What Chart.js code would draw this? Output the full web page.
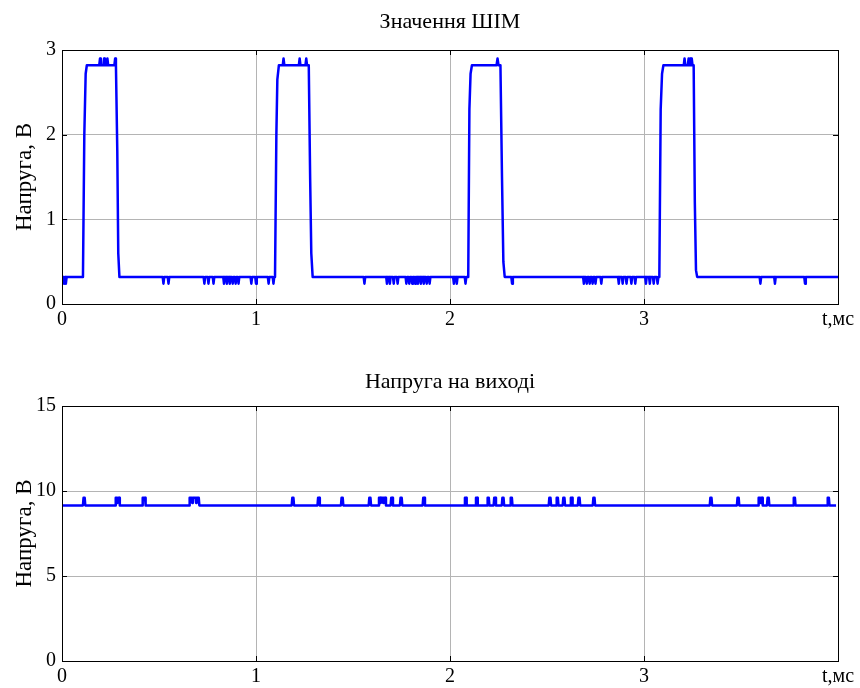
<!DOCTYPE html>
<html>
<head>
<meta charset="utf-8">
<script src="https://cdn.jsdelivr.net/npm/chart.js@4"></script>
<style>
  body { margin: 0; background: #fff; }
  canvas { position: absolute; left: 0; }
</style>
</head>
<body>
<canvas id="pwm" width="860" height="344" style="top:0"></canvas>
<canvas id="out" width="860" height="344" style="top:344px"></canvas>
<script>
// time, ms / voltage, V
const pwmPoints = [
  [0,0.32],[0.004,0.24],[0.008,0.32],[0.012,0.24],[0.016,0.32],[0.02,0.24],[0.024,0.32],
  [0.108,0.32],[0.115,2.0],[0.122,2.72],[0.128,2.82],
  [0.192,2.82],[0.196,2.9],[0.2,2.82],[0.213,2.82],[0.217,2.9],[0.221,2.82],[0.23,2.82],[0.234,2.9],[0.238,2.82],[0.27,2.82],[0.274,2.9],[0.278,2.82],
  [0.285,1.8],[0.29,0.6],[0.296,0.32],
  [0.519,0.32],[0.523,0.24],[0.527,0.32],[0.545,0.32],[0.549,0.24],[0.553,0.32],
  [0.73,0.32],[0.734,0.24],[0.738,0.32],[0.751,0.32],[0.755,0.24],[0.759,0.32],[0.777,0.32],[0.781,0.24],[0.785,0.32],
  [0.831,0.32],[0.835,0.24],[0.839,0.32],[0.846,0.32],[0.85,0.24],[0.854,0.32],[0.861,0.32],[0.865,0.24],[0.869,0.32],
  [0.876,0.32],[0.88,0.24],[0.884,0.32],[0.891,0.32],[0.895,0.24],[0.899,0.32],[0.906,0.32],[0.91,0.24],[0.914,0.32],
  [0.972,0.32],[0.976,0.24],[0.98,0.32],[0.996,0.32],[1.0,0.24],[1.004,0.32],[1.061,0.32],[1.065,0.24],[1.069,0.32],[1.086,0.32],[1.09,0.24],[1.094,0.32],
  [1.098,0.32],[1.105,2.0],[1.11,2.65],[1.118,2.82],[1.138,2.82],[1.142,2.9],[1.146,2.82],[1.221,2.82],[1.225,2.9],[1.229,2.82],
  [1.255,2.82],[1.259,2.9],[1.263,2.82],[1.272,2.82],[1.279,1.5],[1.285,0.6],[1.292,0.32],
  [1.555,0.32],[1.559,0.24],[1.563,0.32],
  [1.671,0.32],[1.675,0.24],[1.679,0.32],[1.686,0.32],[1.69,0.24],[1.694,0.32],[1.706,0.32],[1.71,0.24],[1.714,0.32],[1.726,0.32],[1.73,0.24],[1.734,0.32],
  [1.771,0.32],[1.775,0.24],[1.779,0.32],[1.786,0.32],[1.79,0.24],[1.794,0.32],[1.801,0.32],[1.805,0.24],[1.809,0.32],
  [1.816,0.32],[1.82,0.24],[1.824,0.32],[1.831,0.32],[1.835,0.24],[1.839,0.32],[1.846,0.32],[1.85,0.24],[1.854,0.32],
  [1.861,0.32],[1.865,0.24],[1.869,0.32],[1.876,0.32],[1.88,0.24],[1.884,0.32],[1.891,0.32],[1.895,0.24],[1.899,0.32],
  [2.016,0.32],[2.02,0.24],[2.024,0.32],[2.031,0.32],[2.035,0.24],[2.039,0.32],[2.076,0.32],[2.08,0.24],[2.084,0.32],
  [2.094,0.32],[2.1,2.3],[2.106,2.72],[2.113,2.82],[2.24,2.82],[2.245,2.9],[2.25,2.82],[2.26,2.82],[2.268,1.5],[2.275,0.5],[2.282,0.32],
  [2.316,0.32],[2.32,0.24],[2.324,0.32],
  [2.686,0.32],[2.69,0.24],[2.694,0.32],[2.701,0.32],[2.705,0.24],[2.709,0.32],[2.716,0.32],[2.72,0.24],[2.724,0.32],
  [2.731,0.32],[2.735,0.24],[2.739,0.32],[2.746,0.32],[2.75,0.24],[2.754,0.32],[2.776,0.32],[2.78,0.24],[2.784,0.32],
  [2.866,0.32],[2.87,0.24],[2.874,0.32],[2.886,0.32],[2.89,0.24],[2.894,0.32],[2.906,0.32],[2.91,0.24],[2.914,0.32],
  [2.931,0.32],[2.935,0.24],[2.939,0.32],[2.951,0.32],[2.955,0.24],[2.959,0.32],
  [3.006,0.32],[3.01,0.24],[3.014,0.32],[3.026,0.32],[3.03,0.24],[3.034,0.32],[3.046,0.32],[3.05,0.24],[3.054,0.32],[3.066,0.32],[3.07,0.24],[3.074,0.32],
  [3.079,0.32],[3.086,2.3],[3.093,2.72],[3.1,2.82],[3.205,2.82],[3.209,2.9],[3.213,2.82],[3.226,2.82],[3.23,2.9],[3.234,2.82],
  [3.238,2.9],[3.242,2.82],[3.246,2.9],[3.25,2.82],[3.256,2.82],[3.262,1.2],[3.268,0.4],[3.274,0.32],
  [3.596,0.32],[3.6,0.24],[3.604,0.32],[3.671,0.32],[3.675,0.24],[3.679,0.32],[3.826,0.32],[3.83,0.24],[3.834,0.32],
  [4.0,0.32]
]

const outPoints = [
  [0,9.15],
  [0.108,9.15],[0.111,9.6],[0.117,9.6],[0.12,9.15],
  [0.274,9.15],[0.277,9.6],[0.283,9.6],[0.286,9.3],[0.289,9.6],[0.295,9.6],[0.298,9.15],
  [0.413,9.15],[0.416,9.6],[0.428,9.6],[0.431,9.15],
  [0.655,9.15],[0.658,9.6],[0.668,9.6],[0.671,9.3],[0.674,9.6],[0.688,9.6],[0.691,9.3],[0.694,9.6],[0.705,9.6],[0.708,9.15],
  [1.184,9.15],[1.187,9.6],[1.193,9.6],[1.196,9.15],
  [1.317,9.15],[1.32,9.6],[1.326,9.6],[1.329,9.15],
  [1.438,9.15],[1.441,9.6],[1.447,9.6],[1.45,9.15],
  [1.581,9.15],[1.584,9.6],[1.59,9.6],[1.593,9.15],
  [1.631,9.15],[1.634,9.6],[1.64,9.6],[1.643,9.3],[1.646,9.6],[1.652,9.6],[1.655,9.3],[1.658,9.6],[1.667,9.6],[1.67,9.15],
  [1.694,9.15],[1.697,9.6],[1.703,9.6],[1.706,9.15],
  [1.742,9.15],[1.745,9.6],[1.751,9.6],[1.754,9.15],
  [1.859,9.15],[1.862,9.6],[1.868,9.6],[1.871,9.15],
  [2.074,9.15],[2.077,9.6],[2.083,9.6],[2.086,9.15],
  [2.131,9.15],[2.134,9.6],[2.14,9.6],[2.143,9.15],
  [2.191,9.15],[2.194,9.6],[2.2,9.6],[2.203,9.15],
  [2.225,9.15],[2.228,9.6],[2.234,9.6],[2.237,9.15],
  [2.267,9.15],[2.27,9.6],[2.276,9.6],[2.279,9.15],
  [2.31,9.15],[2.313,9.6],[2.319,9.6],[2.322,9.15],
  [2.509,9.15],[2.512,9.6],[2.518,9.6],[2.521,9.15],
  [2.547,9.15],[2.55,9.6],[2.556,9.6],[2.559,9.15],
  [2.581,9.15],[2.584,9.6],[2.59,9.6],[2.593,9.15],
  [2.62,9.15],[2.623,9.6],[2.629,9.6],[2.632,9.15],
  [2.659,9.15],[2.662,9.6],[2.668,9.6],[2.671,9.15],
  [2.736,9.15],[2.739,9.6],[2.745,9.6],[2.748,9.15],
  [3.339,9.15],[3.342,9.6],[3.348,9.6],[3.351,9.15],
  [3.479,9.15],[3.482,9.6],[3.488,9.6],[3.491,9.15],
  [3.588,9.15],[3.591,9.6],[3.597,9.6],[3.6,9.3],[3.603,9.6],[3.609,9.6],[3.612,9.15],
  [3.634,9.15],[3.637,9.6],[3.643,9.6],[3.646,9.15],
  [3.769,9.15],[3.772,9.6],[3.778,9.6],[3.781,9.15],
  [3.944,9.15],[3.947,9.6],[3.953,9.6],[3.956,9.15],
  [3.99,9.15]
]

const xTicks = ['0', '1', '2', '3', 't,мс']
const pwmYTicks = [0, 1, 2, 3]
const outYTicks = [0, 5, 10, 15]
const titles = ['Значення ШІМ', 'Напруга на виході']
const yTitle = 'Напруга, В'

const FONT = '"Liberation Serif", "Times New Roman", serif'

// box round the plot, inward tick marks, centred title
function framePlugin(title, titleY, yStep) {
  return {
    id: 'frame',
    afterDraw(chart) {
      const { ctx, chartArea: a, scales } = chart
      ctx.save()
      ctx.strokeStyle = '#000'
      ctx.lineWidth = 1
      ctx.strokeRect(Math.round(a.left) + 0.5, Math.round(a.top) + 0.5, Math.round(a.right - a.left), Math.round(a.bottom - a.top))
      ctx.beginPath()
      for (let v = 0; v <= 4; v++) {
        const x = Math.round(scales.x.getPixelForValue(v)) + 0.5
        ctx.moveTo(x, a.top); ctx.lineTo(x, a.top + 5)
        ctx.moveTo(x, a.bottom); ctx.lineTo(x, a.bottom - 5)
      }
      for (let v = scales.y.min; v <= scales.y.max; v += yStep) {
        const y = Math.round(scales.y.getPixelForValue(v)) + 0.5
        ctx.moveTo(a.left, y); ctx.lineTo(a.left + 5, y)
        ctx.moveTo(a.right, y); ctx.lineTo(a.right - 5, y)
      }
      ctx.stroke()
      ctx.fillStyle = '#000'
      ctx.font = '22px ' + FONT
      ctx.textAlign = 'center'
      ctx.textBaseline = 'middle'
      ctx.fillText(title, (a.left + a.right) / 2, titleY)
      ctx.restore()
    }
  }
}

function makeChart(id, points, yMax, yStep, title, titleY, padTop, xHeight) {
  return new Chart(document.getElementById(id), {
    type: 'line',
    data: {
      datasets: [{
        data: points.map(p => ({ x: p[0], y: p[1] })),
        borderColor: '#0000ff',
        borderWidth: 2.5,
        borderJoinStyle: 'round',
        pointRadius: 0,
        tension: 0,
        fill: false
      }]
    },
    options: {
      responsive: false,
      animation: false,
      layout: { padding: { top: padTop, right: 22, left: 0, bottom: 0 } },
      plugins: { legend: { display: false }, tooltip: { enabled: false } },
      scales: {
        x: {
          type: 'linear', min: 0, max: 4,
          ticks: {
            stepSize: 1, autoSkip: false, maxRotation: 0, padding: 4, color: '#000',
            font: { family: FONT, size: 20 },
            callback: v => xTicks[v]
          },
          grid: { color: '#b4b4b4', drawTicks: false },
          border: { color: '#000' },
          afterFit: s => { s.height = xHeight }
        },
        y: {
          min: 0, max: yMax,
          ticks: {
            stepSize: yStep, padding: 6, color: '#000',
            font: { family: FONT, size: 20 }
          },
          grid: { color: '#b4b4b4', drawTicks: false },
          border: { color: '#000' },
          title: {
            display: true, text: yTitle, color: '#000',
            font: { family: FONT, size: 23 }, padding: { top: 11, bottom: 0 }
          },
          afterFit: s => { s.width = 62 }
        }
      }
    },
    plugins: [framePlugin(title, titleY, yStep)]
  })
}

makeChart('pwm', pwmPoints, pwmYTicks[3], pwmYTicks[1], titles[0], 22, 50, 40)
makeChart('out', outPoints, outYTicks[3], outYTicks[1], titles[1], 38, 62, 27)
</script>
</body>
</html>
